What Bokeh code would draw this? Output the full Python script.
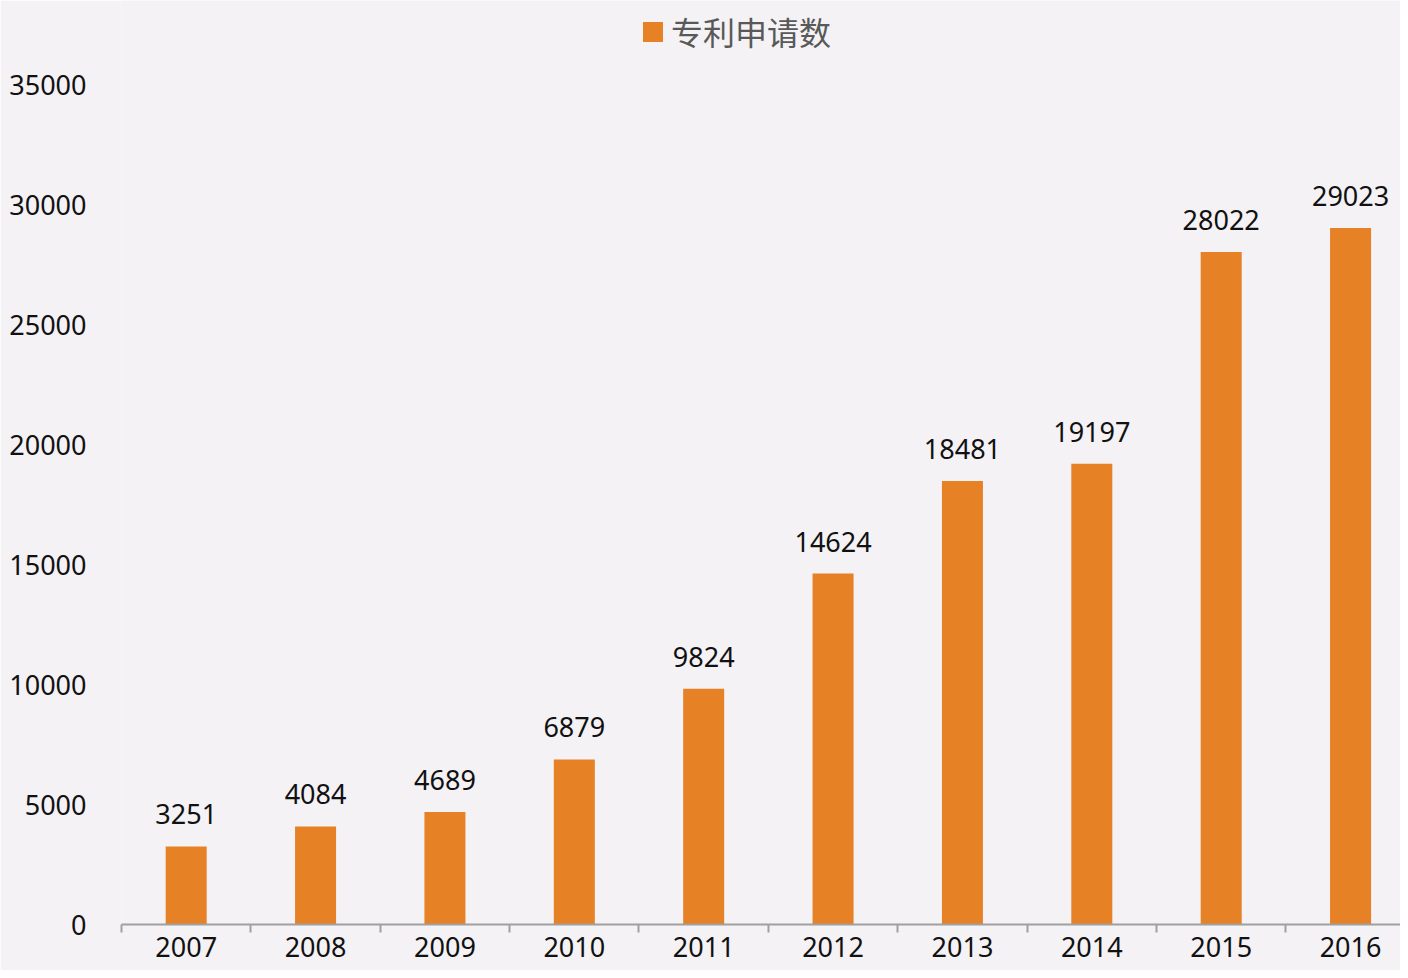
from bokeh.plotting import figure
from bokeh.models import ColumnDataSource, Range1d, FixedTicker, Legend, LegendItem, LabelSet
from bokeh.core.properties import value
from bokeh.embed import file_html
from bokeh.resources import INLINE

years = ["2007", "2008", "2009", "2010", "2011", "2012", "2013", "2014", "2015", "2016"]
counts = [3251, 4084, 4689, 6879, 9824, 14624, 18481, 19197, 28022, 29023]
y_ticks = [0, 5000, 10000, 15000, 20000, 25000, 30000, 35000]
series_name = "专利申请数"

BG = "#F4F2F5"
BAR = "#E68126"
AXIS = "#A0A0A0"

xs = [i + 0.5 for i in range(len(years))]
src = ColumnDataSource(dict(x=xs, y=counts, lab=[str(c) for c in counts]))

p = figure(width=1400, height=970, output_backend="svg", toolbar_location=None,
           x_range=Range1d(0, 9.886), y_range=Range1d(0, 38500),
           min_border_left=121, min_border_right=0, min_border_top=0, min_border_bottom=46)
p.background_fill_color = BG
p.border_fill_color = BG
p.outline_line_color = None
p.xgrid.visible = False
p.ygrid.visible = False

r = p.vbar(x="x", top="y", width=0.317, bottom=0, source=src, fill_color=BAR, line_color=None)

labels = LabelSet(x="x", y="y", text="lab", source=src, text_align="center", text_baseline="bottom",
                  y_offset=22, text_font=value("Noto Sans"), text_font_size="27px", text_color="#111111")
p.add_layout(labels)

# y axis
p.yaxis.ticker = FixedTicker(ticks=y_ticks)
p.yaxis.axis_line_color = None
p.yaxis.major_tick_line_color = None
p.yaxis.minor_tick_line_color = None
p.yaxis.major_label_standoff = 29
p.yaxis.major_label_text_font = "Noto Sans"
p.yaxis.major_label_text_font_size = "27px"
p.yaxis.major_label_text_color = "#111111"

# x axis
p.xaxis.ticker = FixedTicker(ticks=xs, minor_ticks=list(range(len(years) + 1)))
p.xaxis.major_label_overrides = {x: y for x, y in zip(xs, years)}
p.xaxis.axis_line_color = AXIS
p.xaxis.axis_line_width = 2
p.xaxis.major_tick_line_color = None
p.xaxis.minor_tick_line_color = AXIS
p.xaxis.minor_tick_line_width = 2
p.xaxis.minor_tick_in = 0
p.xaxis.minor_tick_out = 8
p.xaxis.major_label_standoff = 4
p.xaxis.major_label_text_font = "Noto Sans"
p.xaxis.major_label_text_font_size = "27px"
p.xaxis.major_label_text_color = "#111111"

legend = Legend(items=[LegendItem(label=series_name, renderers=[r])], orientation="horizontal",
                location=(519, 870), background_fill_alpha=0, border_line_color=None,
                label_text_font="Noto Sans CJK SC", label_text_font_size="32px",
                label_text_color="#595959", glyph_width=25, glyph_height=25,
                label_standoff=6, padding=0, margin=0)
p.add_layout(legend)

open("out.html", "w").write(file_html(p, INLINE))
